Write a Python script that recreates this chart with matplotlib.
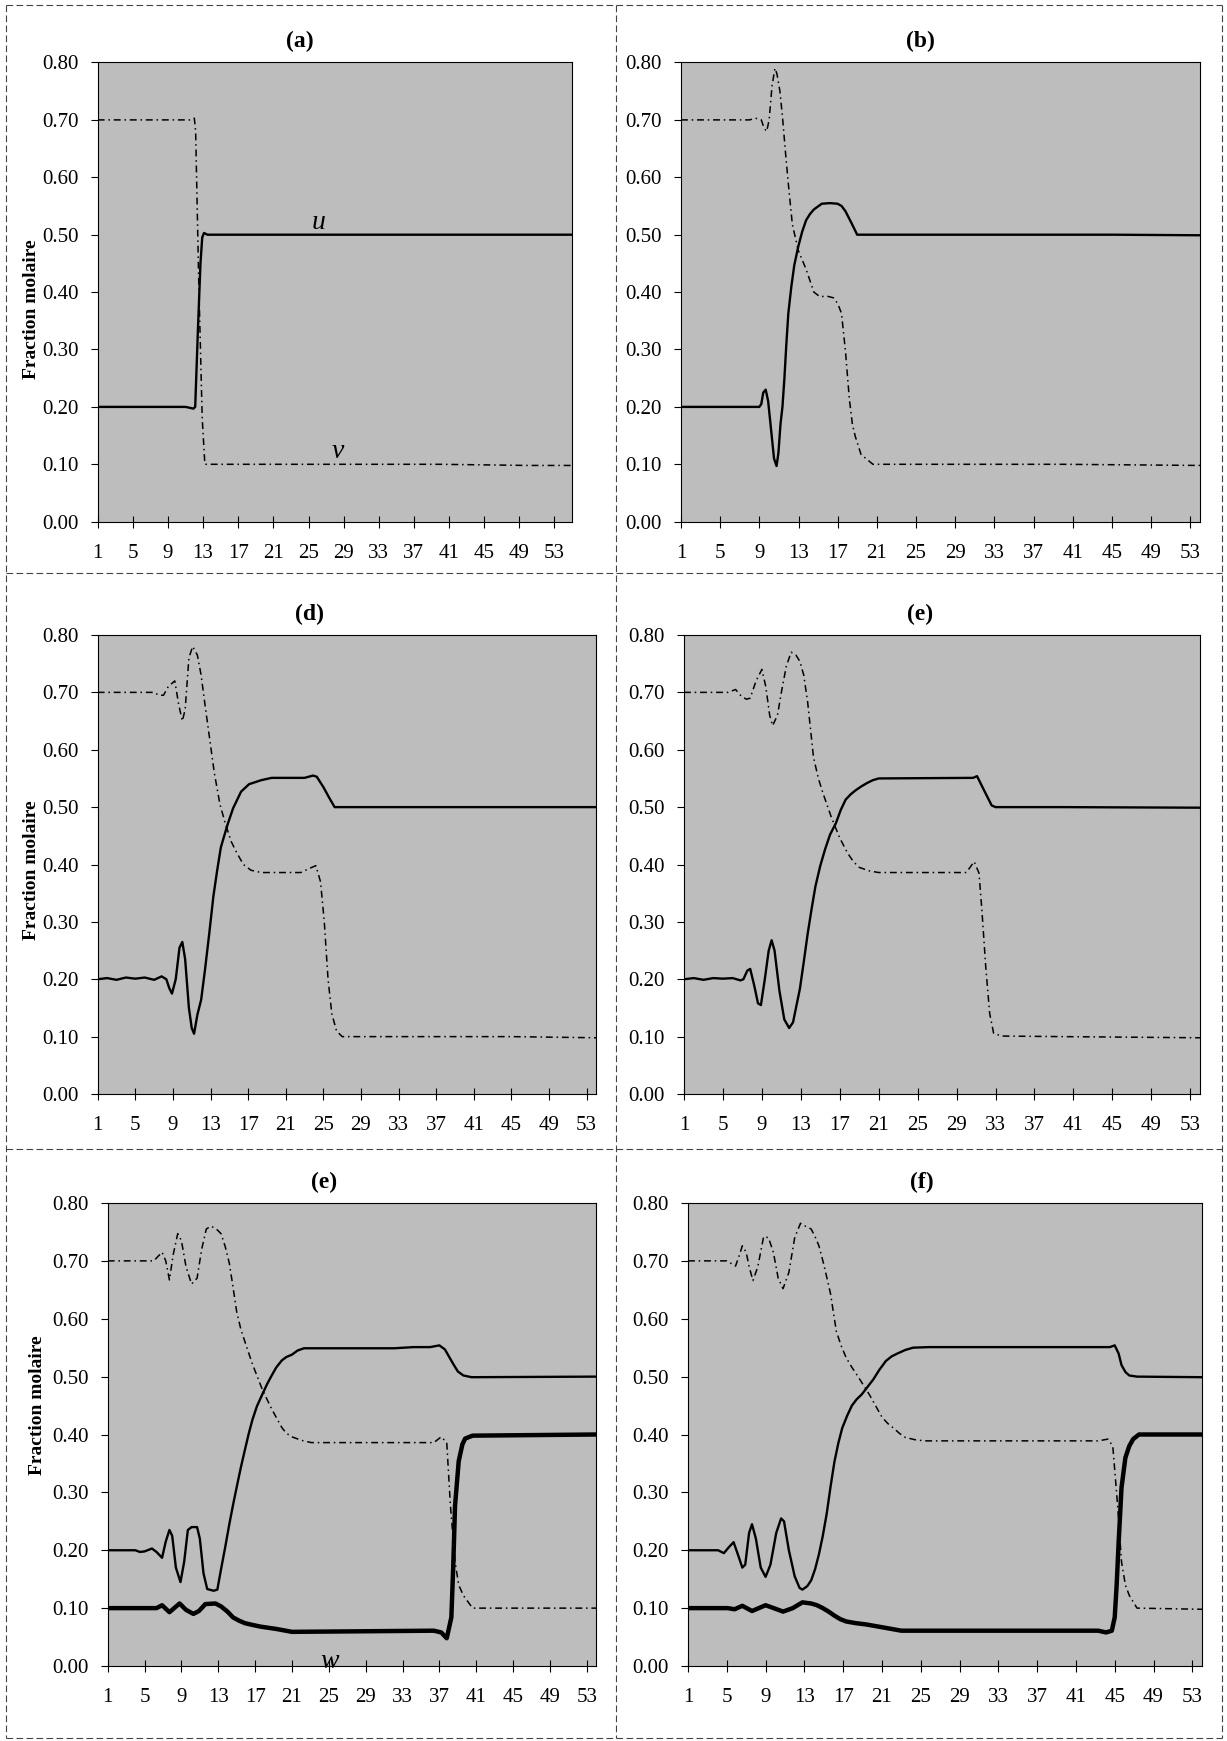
import matplotlib
matplotlib.use('Agg')
import matplotlib.pyplot as plt
from matplotlib.lines import Line2D
from matplotlib import transforms

plt.rcParams['font.family'] = ['Liberation Serif', 'DejaVu Serif']

# ---- data (x = plate number, y = mole fraction) ----
xticks = [1, 5, 9, 13, 17, 21, 25, 29, 33, 37, 41, 45, 49, 53]
yticks = [0.0, 0.1, 0.2, 0.3, 0.4, 0.5, 0.6, 0.7, 0.8]

# (a)
u_a_x = [1, 5, 9, 11, 11.9, 12.1, 12.4, 12.7, 12.9, 13.1, 13.5, 20, 30, 40, 50, 55]
u_a_y = [0.20, 0.20, 0.20, 0.20, 0.197, 0.20, 0.33, 0.45, 0.495, 0.503, 0.50, 0.50, 0.50, 0.50, 0.50, 0.50]
v_a_x = [1, 5, 9, 11.5, 12.0, 12.15, 12.5, 12.9, 13.2, 14, 20, 30, 40, 50, 55]
v_a_y = [0.70, 0.70, 0.70, 0.70, 0.703, 0.68, 0.42, 0.18, 0.10, 0.10, 0.10, 0.10, 0.10, 0.098, 0.098]

# (b)
u_b_x = [1, 5, 9.0, 9.2, 9.4, 9.65, 9.9, 10.2, 10.5, 10.76, 10.95, 11.16, 11.36, 11.56, 11.76, 11.96,
         12.27, 12.57, 12.97, 13.37, 13.77, 14.17, 14.57, 15.38, 16.2, 16.98, 17.4, 17.79, 18.39, 18.99,
         25, 35, 45, 54]
u_b_y = [0.20, 0.20, 0.20, 0.205, 0.225, 0.23, 0.21, 0.16, 0.11, 0.097, 0.12, 0.17, 0.20, 0.25, 0.31,
         0.363, 0.41, 0.447, 0.479, 0.505, 0.525, 0.536, 0.544, 0.554, 0.555, 0.554, 0.55, 0.541, 0.521,
         0.50, 0.50, 0.50, 0.50, 0.499]
v_b_x = [1, 5, 8.0, 8.6, 9.2, 9.5, 9.75, 10.0, 10.3, 10.6, 10.8, 11.1, 11.36, 11.66, 11.96, 12.37, 12.97,
         13.77, 14.57, 15.18, 15.9, 16.58, 17.0, 17.39, 17.79, 18.19, 18.5, 18.79, 19.39, 20.6, 30, 40, 54]
v_b_y = [0.70, 0.70, 0.70, 0.703, 0.70, 0.685, 0.68, 0.70, 0.76, 0.79, 0.78, 0.75, 0.706, 0.645, 0.589,
         0.518, 0.473, 0.44, 0.40, 0.392, 0.393, 0.39, 0.38, 0.363, 0.298, 0.214, 0.17, 0.149, 0.117,
         0.10, 0.10, 0.10, 0.098]

# (d)
u_d_x = [1, 2, 3, 4, 5, 6, 7, 7.8, 8.3, 8.6, 8.9, 9.3, 9.7, 10.0, 10.3, 10.7, 11.0, 11.25, 11.6, 12.0,
         12.4, 12.86, 13.3, 13.7, 14.1, 14.8, 15.4, 16.25, 17.1, 18.4, 19.5, 23.0, 23.9, 24.3, 25.0, 25.6,
         26.2, 30, 40, 54]
u_d_y = [0.20, 0.202, 0.199, 0.203, 0.201, 0.203, 0.199, 0.205, 0.20, 0.185, 0.175, 0.20, 0.255, 0.265,
         0.235, 0.15, 0.115, 0.105, 0.138, 0.164, 0.215, 0.279, 0.344, 0.389, 0.43, 0.469, 0.498, 0.527,
         0.54, 0.547, 0.551, 0.551, 0.555, 0.553, 0.535, 0.517, 0.50, 0.50, 0.50, 0.50]
v_d_x = [1, 7.0, 7.5, 8.0, 8.5, 9.2, 9.6, 10.0, 10.3, 10.7, 11.1, 11.6, 12.0, 12.4, 12.9, 13.4, 14.0,
         14.6, 15.2, 15.8, 16.5, 17.3, 18.4, 22.6, 23.5, 24.2, 24.7, 25.1, 25.5, 25.9, 26.4, 27.0,
         35, 45, 54]
v_d_y = [0.70, 0.70, 0.695, 0.695, 0.71, 0.72, 0.68, 0.65, 0.67, 0.76, 0.78, 0.765, 0.73, 0.68, 0.62,
         0.56, 0.505, 0.47, 0.44, 0.42, 0.40, 0.39, 0.386, 0.386, 0.393, 0.398, 0.37, 0.30, 0.20, 0.14,
         0.11, 0.10, 0.10, 0.10, 0.098]

# (e) top
u_e1_x = [1, 2, 3, 4, 5, 6, 6.8, 7.1, 7.5, 7.8, 8.2, 8.6, 8.9, 9.3, 9.7, 10.0, 10.3, 10.8, 11.3, 11.8,
          12.2, 12.5, 12.9, 13.3, 13.7, 14.1, 14.5, 15.0, 15.5, 16.0, 16.6, 17.1, 17.6, 18.1, 18.6, 19.2,
          19.8, 20.4, 21.0, 30.7, 31.1, 31.8, 32.6, 33.0, 40, 54]
u_e1_y = [0.20, 0.202, 0.199, 0.202, 0.201, 0.202, 0.198, 0.20, 0.215, 0.218, 0.19, 0.158, 0.155, 0.20,
          0.25, 0.268, 0.25, 0.18, 0.13, 0.115, 0.125, 0.15, 0.183, 0.23, 0.279, 0.322, 0.362, 0.398,
          0.427, 0.452, 0.472, 0.495, 0.513, 0.522, 0.529, 0.536, 0.542, 0.547, 0.55, 0.551, 0.554, 0.53,
          0.503, 0.50, 0.50, 0.499]
v_e1_x = [1, 5.5, 6.3, 6.8, 7.4, 7.8, 8.4, 9.0, 9.4, 9.8, 10.1, 10.6, 11.0, 11.5, 12.0, 12.5, 12.9, 13.3,
          13.7, 14.0, 14.3, 14.8, 15.3, 16.1, 17.0, 17.8, 18.4, 19.0, 20.0, 21.0, 30.0, 30.8, 31.3, 31.6,
          32.0, 32.4, 32.8, 33.6, 40, 54]
v_e1_y = [0.70, 0.70, 0.705, 0.695, 0.688, 0.69, 0.72, 0.74, 0.71, 0.66, 0.642, 0.66, 0.70, 0.745, 0.77,
          0.765, 0.754, 0.73, 0.683, 0.635, 0.587, 0.55, 0.523, 0.484, 0.446, 0.42, 0.405, 0.395, 0.389,
          0.386, 0.386, 0.405, 0.385, 0.32, 0.22, 0.14, 0.106, 0.101, 0.10, 0.098]

# (e) bottom
u_e2_x = [1, 4.0, 4.5, 5.0, 5.8, 6.3, 6.9, 7.3, 7.7, 8.0, 8.4, 8.9, 9.3, 9.7, 10.1, 10.7, 11.0, 11.4,
          11.8, 12.5, 12.9, 13.3, 13.75, 14.2, 14.6, 15.0, 15.45, 15.9, 16.3, 16.7, 17.2, 17.8, 18.3,
          18.8, 19.3, 19.9, 20.4, 21.0, 21.6, 22.3, 32.1, 34.2, 36.0, 37.0, 37.6, 38.5, 39.0, 39.6, 40.5, 54]
u_e2_y = [0.20, 0.20, 0.197, 0.198, 0.203, 0.197, 0.187, 0.215, 0.235, 0.225, 0.17, 0.145, 0.18, 0.235,
          0.24, 0.24, 0.22, 0.16, 0.133, 0.13, 0.132, 0.167, 0.205, 0.245, 0.278, 0.309, 0.343, 0.374,
          0.401, 0.425, 0.449, 0.47, 0.487, 0.502, 0.516, 0.528, 0.534, 0.538, 0.545, 0.549, 0.549, 0.551,
          0.551, 0.554, 0.547, 0.522, 0.509, 0.502, 0.499, 0.50]
v_e2_x = [1, 6.0, 6.9, 7.3, 7.7, 8.1, 8.6, 9.0, 9.5, 10.1, 10.7, 11.2, 11.7, 12.2, 12.8, 13.3, 13.75,
          14.2, 14.6, 15.0, 15.45, 15.9, 16.7, 17.8, 18.8, 19.9, 20.4, 21.0, 22.0, 23.1, 36.4, 37.2, 37.8,
          38.2, 38.7, 39.1, 39.6, 40.6, 54]
v_e2_y = [0.70, 0.70, 0.715, 0.70, 0.667, 0.71, 0.747, 0.735, 0.69, 0.66, 0.67, 0.72, 0.755, 0.76, 0.755,
          0.747, 0.725, 0.696, 0.655, 0.612, 0.582, 0.56, 0.522, 0.477, 0.444, 0.412, 0.402, 0.396, 0.39,
          0.386, 0.386, 0.396, 0.386, 0.277, 0.18, 0.14, 0.122, 0.10, 0.10]
w_e2_x = [1, 6.3, 6.9, 7.7, 8.8, 9.5, 10.3, 10.9, 11.6, 12.7, 13.3, 14.0, 14.6, 15.3, 15.9, 16.7, 17.6,
          19.3, 21.0, 36.4, 37.2, 37.8, 38.3, 38.5, 38.7, 39.1, 39.5, 39.8, 40.6, 54]
w_e2_y = [0.10, 0.10, 0.105, 0.093, 0.108, 0.097, 0.09, 0.095, 0.107, 0.108, 0.103, 0.094, 0.084, 0.078,
          0.074, 0.071, 0.068, 0.064, 0.059, 0.061, 0.058, 0.048, 0.084, 0.17, 0.277, 0.354, 0.383, 0.393,
          0.398, 0.40]

# (f)
u_f_x = [1, 4.1, 4.7, 5.2, 5.7, 6.2, 6.6, 6.9, 7.3, 7.6, 8.0, 8.5, 9.0, 9.5, 10.1, 10.6, 10.9, 11.4,
         12.0, 12.5, 12.8, 13.3, 13.7, 14.1, 14.5, 14.9, 15.3, 15.7, 16.1, 16.5, 16.9, 17.4, 17.9, 18.4,
         18.9, 19.5, 20.1, 20.7, 21.4, 22.0, 22.6, 23.4, 24.2, 25.8, 44.5, 45.0, 45.4, 45.7, 46.1, 46.5,
         47.3, 54]
u_f_y = [0.20, 0.20, 0.195, 0.205, 0.214, 0.19, 0.17, 0.175, 0.23, 0.245, 0.22, 0.17, 0.154, 0.175,
         0.23, 0.255, 0.25, 0.20, 0.155, 0.135, 0.132, 0.138, 0.148, 0.167, 0.193, 0.225, 0.263, 0.31,
         0.353, 0.385, 0.411, 0.432, 0.45, 0.461, 0.469, 0.482, 0.495, 0.511, 0.527, 0.535, 0.54, 0.546,
         0.55, 0.551, 0.551, 0.554, 0.54, 0.52, 0.508, 0.502, 0.50, 0.499]
v_f_x = [1, 4.1, 5.0, 5.9, 6.3, 6.6, 7.0, 7.3, 7.7, 8.2, 8.8, 9.3, 9.8, 10.3, 10.8, 11.4, 12.0, 12.6,
         13.1, 13.7, 14.1, 14.5, 15.0, 15.4, 15.7, 16.0, 16.3, 16.8, 17.3, 17.9, 18.5, 19.1, 19.7, 20.4,
         21.0, 21.6, 22.2, 22.8, 23.4, 24.4, 25.4, 43.3, 44.3, 44.8, 45.3, 45.7, 46.1, 46.5, 47.3, 54]
v_f_y = [0.70, 0.70, 0.70, 0.691, 0.71, 0.726, 0.715, 0.69, 0.666, 0.69, 0.742, 0.74, 0.715, 0.67,
         0.652, 0.68, 0.74, 0.765, 0.76, 0.755, 0.742, 0.726, 0.694, 0.665, 0.643, 0.61, 0.578, 0.553,
         0.533, 0.516, 0.501, 0.485, 0.469, 0.448, 0.43, 0.419, 0.411, 0.402, 0.395, 0.391, 0.389, 0.389,
         0.392, 0.38, 0.277, 0.18, 0.14, 0.122, 0.10, 0.098]
w_f_x = [1, 5.1, 5.8, 6.6, 7.6, 9.0, 10.0, 10.8, 11.8, 12.8, 13.7, 14.3, 14.9, 15.5, 16.1, 16.7, 17.3,
         18.3, 19.3, 21.0, 23.0, 43.3, 44.1, 44.7, 45.0, 45.2, 45.4, 45.7, 46.1, 46.5, 46.9, 47.5, 54]
w_f_y = [0.10, 0.10, 0.098, 0.104, 0.095, 0.105, 0.099, 0.094, 0.10, 0.11, 0.108, 0.105, 0.10, 0.094,
         0.087, 0.081, 0.077, 0.074, 0.072, 0.067, 0.061, 0.061, 0.058, 0.061, 0.084, 0.14, 0.212, 0.308,
         0.36, 0.38, 0.392, 0.40, 0.40]

W, H = 1227, 1741
fig = plt.figure(figsize=(W / 100, H / 100), dpi=100)
fig.patch.set_facecolor('white')

def fx(px):
    return px / W

def fy(py):
    return 1 - py / H

def make_ax(x0, x1, y0, y1):
    # pixel box -> axes
    return fig.add_axes([fx(x0), fy(y1), fx(x1) - fx(x0), (y1 - y0) / H])

bg = '#bdbdbd'

def style(ax, title, tx, xmax):
    ax.set_facecolor(bg)
    ax.set_xlim(1, xmax)
    ax.set_ylim(0, 0.8)
    ax.set_xticks(xticks)
    ax.set_xticklabels([str(t) for t in xticks])
    ax.set_yticks(yticks)
    ax.set_yticklabels(['%.2f' % t for t in yticks])
    ax.tick_params(axis='x', direction='inout', length=8, width=0.8, pad=12, labelsize=15)
    ax.tick_params(axis='y', direction='out', length=5, width=0.8, pad=9, labelsize=15)
    for s in ax.spines.values():
        s.set_linewidth(0.8)
        s.set_color('black')
    ax.text(tx, 1.045, title, transform=ax.transAxes, ha='center', va='center',
            fontsize=17, fontweight='bold')

def draw(ax, u, v, w=None):
    ax.plot(u[0], u[1], color='black', lw=1.7, solid_joinstyle='round')
    ax.plot(v[0], v[1], color='black', lw=1.1, linestyle=(0, (4.5, 2.5, 1, 2.5)))
    if w is not None:
        ax.plot(w[0], w[1], color='black', lw=3.2, solid_joinstyle='round')

# row 1
ax_a = make_ax(97.7, 572, 62.5, 521.7)
style(ax_a, '(a)', (300 - 97.7) / (572 - 97.7), 55)
draw(ax_a, (u_a_x, u_a_y), (v_a_x, v_a_y))
ax_a.text(26.1, 0.521, 'u', style='italic', fontsize=20, ha='center', va='center')
ax_a.text(28.3, 0.123, 'v', style='italic', fontsize=20, ha='center', va='center')

ax_b = make_ax(681, 1200, 62.5, 521.7)
style(ax_b, '(b)', (920 - 681) / (1200 - 681), 54)
draw(ax_b, (u_b_x, u_b_y), (v_b_x, v_b_y))

# row 2
ax_d = make_ax(97.7, 596, 635, 1094)
style(ax_d, '(d)', (310 - 97.7) / (596 - 97.7), 54)
draw(ax_d, (u_d_x, u_d_y), (v_d_x, v_d_y))

ax_e1 = make_ax(684, 1200, 635, 1094)
style(ax_e1, '(e)', (920 - 684) / (1200 - 684), 54)
draw(ax_e1, (u_e1_x, u_e1_y), (v_e1_x, v_e1_y))

# row 3
ax_e2 = make_ax(107.7, 596, 1203, 1666)
style(ax_e2, '(e)', (324 - 107.7) / (596 - 107.7), 54)
draw(ax_e2, (u_e2_x, u_e2_y), (v_e2_x, v_e2_y), (w_e2_x, w_e2_y))
ax_e2.text(25.1, 0.008, 'w', style='italic', fontsize=20, ha='center', va='center')

ax_f = make_ax(688, 1202, 1203, 1666)
style(ax_f, '(f)', (922 - 688) / (1202 - 688), 54)
draw(ax_f, (u_f_x, u_f_y), (v_f_x, v_f_y), (w_f_x, w_f_y))

# y labels (left column only); x in figure pixels, y in data units
for ax, xc, yd in [(ax_a, 32, 0.37), (ax_d, 32, 0.39), (ax_e2, 38, 0.45)]:
    tr = transforms.blended_transform_factory(
        transforms.Affine2D().scale(1.0 / W, 1.0) + fig.transFigure, ax.transData)
    ax.text(xc, yd, 'Fraction molaire', rotation=90, ha='center', va='center',
            fontsize=14, fontweight='bold', transform=tr)

# dashed cell borders
bc = '#444444'
def bline(x0, y0, x1, y1):
    fig.add_artist(Line2D([fx(x0), fx(x1)], [fy(y0), fy(y1)], color=bc, lw=0.8,
                          linestyle=(0, (6, 3)), transform=fig.transFigure))

bline(6, 5, 1222, 5)
bline(6, 1738, 1222, 1738)
bline(6, 5, 6, 1738)
bline(1222, 5, 1222, 1738)
bline(616, 5, 616, 1738)
bline(6, 573, 1222, 573)
bline(6, 1149, 1222, 1149)

fig.savefig('out.png', dpi=100, facecolor='white')
